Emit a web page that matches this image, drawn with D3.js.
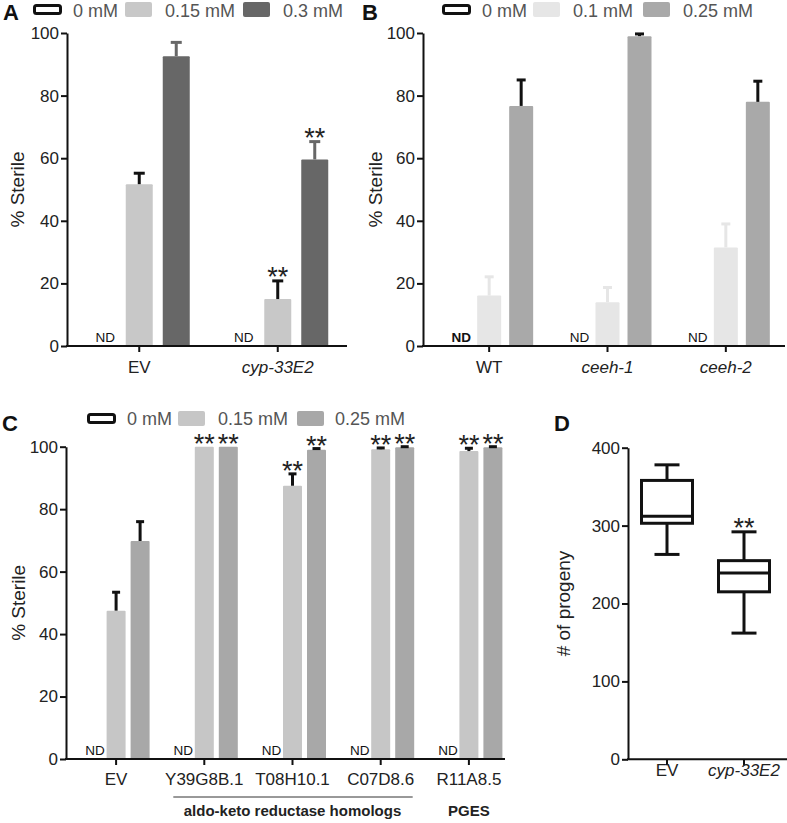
<!DOCTYPE html>
<html><head><meta charset="utf-8">
<script src="https://cdn.jsdelivr.net/npm/d3@7"></script>
<style>
body{margin:0;background:#fff}
svg{display:block}
text{font-family:"Liberation Sans",Arial,Helvetica,sans-serif}
</style>
</head><body>
<svg id="chart" width="787" height="823"></svg>
<script>
// ---------------- DATA ----------------
// Panel A
const catsA = ["EV", "cyp-33E2"];
const italicA = [false, true];
const dosesA = ["0 mM", "0.15 mM", "0.3 mM"];
const a015 = [51.7, 15.0];
const a015Err = [3.5, 5.8];
const a015Stars = ["", "**"];
const a03 = [92.6, 59.6];
const a03Err = [4.4, 5.7];
const a03Stars = ["", "**"];

// Panel B
const catsB = ["WT", "ceeh-1", "ceeh-2"];
const italicB = [false, true, true];
const dosesB = ["0 mM", "0.1 mM", "0.25 mM"];
const b01 = [16.1, 14.0, 31.5];
const b01Err = [6.0, 4.7, 7.5];
const b025 = [76.7, 99.0, 78.0];
const b025Err = [8.3, 0.7, 6.6];

// Panel C
const catsC = ["EV", "Y39G8B.1", "T08H10.1", "C07D8.6", "R11A8.5"];
const dosesC = ["0 mM", "0.15 mM", "0.25 mM"];
const c015 = [47.5, 100, 87.5, 99.2, 98.6];
const c015Err = [5.9, 0, 3.8, 0.4, 0.9];
const c015Stars = ["", "**", "**", "**", "**"];
const c025 = [69.8, 100, 99.0, 99.8, 99.8];
const c025Err = [6.2, 0, 0.4, 0.2, 0.2];
const c025Stars = ["", "**", "**", "**", "**"];
const groupsC = [
  {label: "aldo-keto reductase homologs", from: "Y39G8B.1", to: "C07D8.6", line: true},
  {label: "PGES", from: "R11A8.5", to: "R11A8.5", line: false}
];

// Panel D (box plot: min, q1, median, q3, max)
const catsD = ["EV", "cyp-33E2"];
const italicD = [false, true];
const boxMin = [263, 162];
const boxQ1 = [303, 215];
const boxMed = [312, 239];
const boxQ3 = [358, 255];
const boxMax = [378, 292];
const starsD = ["", "**"];

// y ticks
const ticksPct = [0, 20, 40, 60, 80, 100];
const ticksProg = [0, 100, 200, 300, 400];

// ---------------- DRAW ----------------
const svg = d3.select("#chart");
const FONT_TICK = 17;
const STAR_FS = 27;

function drawYAxis(y, x0, ticks, title, titleX) {
  const g = svg.append("g").attr("transform", `translate(${x0},0)`)
    .call(d3.axisLeft(y).tickValues(ticks).tickSize(6).tickSizeOuter(0).tickPadding(2));
  g.select(".domain").attr("stroke", "#111").attr("stroke-width", 2);
  g.selectAll(".tick line").attr("stroke", "#111").attr("stroke-width", 2);
  g.selectAll(".tick text").attr("font-size", FONT_TICK).attr("fill", "#222")
    .style("font-family", '"Liberation Sans",Arial,sans-serif');
  const [r0, r1] = y.range();
  svg.append("text")
    .attr("transform", `translate(${titleX},${(r0 + r1) / 2}) rotate(-90)`)
    .attr("text-anchor", "middle").attr("dominant-baseline", "central")
    .attr("font-size", 19).attr("fill", "#222").text(title);
}

function drawXAxis(x, yBase, axX0, axX1, cats, italics, labelDy) {
  svg.append("line").attr("x1", axX0 - 1).attr("x2", axX1).attr("y1", yBase).attr("y2", yBase)
    .attr("stroke", "#111").attr("stroke-width", 2);
  cats.forEach((c, i) => {
    const cx = x(c);
    svg.append("line").attr("x1", cx).attr("x2", cx).attr("y1", yBase).attr("y2", yBase + 6)
      .attr("stroke", "#111").attr("stroke-width", 2);
    svg.append("text").attr("x", cx).attr("y", yBase + labelDy)
      .attr("text-anchor", "middle").attr("font-size", FONT_TICK).attr("fill", "#222")
      .attr("font-style", italics && italics[i] ? "italic" : "normal").text(c);
  });
}

function drawLegend(items, yTop, baseline) {
  items.forEach(it => {
    if (it.outline) {
      svg.append("rect").attr("x", it.sx + 1.5).attr("y", yTop + 3.5).attr("width", 26).attr("height", 8)
        .attr("rx", 2).attr("fill", "#fff").attr("stroke", "#111").attr("stroke-width", 3);
    } else {
      svg.append("rect").attr("x", it.sx).attr("y", yTop).attr("width", 27).attr("height", 15)
        .attr("rx", 2).attr("fill", it.fill);
    }
    svg.append("text").attr("x", it.tx).attr("y", baseline).attr("font-size", 18)
      .attr("fill", "#555").text(it.label);
  });
}

function drawBars(x, y, cats, series, barW, capW, starGap) {
  series.forEach(s => {
    cats.forEach((c, i) => {
      const v = s.values[i];
      const cx = x(c) + s.offset;
      const y0 = y(0);
      svg.append("rect").attr("x", cx - barW / 2).attr("width", barW)
        .attr("y", y(v)).attr("height", y0 - y(v)).attr("fill", s.fill).attr("rx", 1);
      const e = s.errs[i];
      if (e > 0) {
        const yt = y(Math.min(100, v + e));
        svg.append("line").attr("x1", cx).attr("x2", cx).attr("y1", y(v)).attr("y2", yt)
          .attr("stroke", s.errColor).attr("stroke-width", 3);
        svg.append("line").attr("x1", cx - capW / 2).attr("x2", cx + capW / 2).attr("y1", yt).attr("y2", yt)
          .attr("stroke", s.errColor).attr("stroke-width", 3);
      }
      if (s.stars && s.stars[i]) {
        const yt = y(Math.min(100, v + e));
        svg.append("text").attr("x", cx).attr("y", yt - starGap + 0.556 * STAR_FS)
          .attr("text-anchor", "middle").attr("font-size", STAR_FS).attr("fill", "#222").text(s.stars[i]);
      }
    });
  });
}

function drawND(x, y, cats, offset, boldIdx) {
  cats.forEach((c, i) => {
    svg.append("text").attr("x", x(c) + offset).attr("y", y(0) - 4)
      .attr("text-anchor", "middle").attr("font-size", 13.5).attr("fill", "#111")
      .attr("font-weight", i === boldIdx ? "bold" : "normal").text("ND");
  });
}

function panelLabel(t, xx, yy) {
  svg.append("text").attr("x", xx).attr("y", yy).attr("font-size", 22)
    .attr("font-weight", "bold").attr("fill", "#111").text(t);
}

// ---- Panel A ----
{
  const y = d3.scaleLinear().domain([0, 100]).range([346, 33]);
  const x = d3.scalePoint().domain(catsA).range([70, 347]).padding(0.5);
  const off = 37;
  drawBars(x, y, catsA, [
    {values: a015, errs: a015Err, stars: a015Stars, fill: "#c8c8c8", errColor: "#111", offset: 0},
    {values: a03, errs: a03Err, stars: a03Stars, fill: "#676767", errColor: "#676767", offset: off}
  ], 27, 11, 10);
  drawND(x, y, catsA, -off + 3, -1);
  drawYAxis(y, 67, ticksPct, "% Sterile", 17);
  drawXAxis(x, 346, 67, 347, catsA, italicA, 27);
  drawLegend([
    {outline: true, sx: 33, tx: 73, label: dosesA[0]},
    {fill: "#c8c8c8", sx: 125, tx: 165, label: dosesA[1]},
    {fill: "#676767", sx: 243, tx: 283, label: dosesA[2]}
  ], 2, 17);
  panelLabel("A", 3, 20);
}

// ---- Panel B ----
{
  const y = d3.scaleLinear().domain([0, 100]).range([346, 33]);
  const x = d3.scalePoint().domain(catsB).range([430, 785]).padding(0.5);
  const off = 32;
  drawBars(x, y, catsB, [
    {values: b01, errs: b01Err, fill: "#e6e6e6", errColor: "#e6e6e6", offset: 0},
    {values: b025, errs: b025Err, fill: "#a9a9a9", errColor: "#111", offset: off}
  ], 24, 9, 10);
  drawND(x, y, catsB, -off + 4, 0);
  drawYAxis(y, 423, ticksPct, "% Sterile", 375);
  drawXAxis(x, 346, 423, 785, catsB, italicB, 27);
  drawLegend([
    {outline: true, sx: 442, tx: 482, label: dosesB[0]},
    {fill: "#e6e6e6", sx: 533, tx: 573, label: dosesB[1]},
    {fill: "#a9a9a9", sx: 643, tx: 683, label: dosesB[2]}
  ], 2, 17);
  panelLabel("B", 362, 20);
}

// ---- Panel C ----
{
  const y = d3.scaleLinear().domain([0, 100]).range([759, 446.7]);
  const x = d3.scalePoint().domain(catsC).range([72, 513]).padding(0.5);
  const off = 24;
  drawBars(x, y, catsC, [
    {values: c015, errs: c015Err, stars: c015Stars, fill: "#c6c6c6", errColor: "#111", offset: 0},
    {values: c025, errs: c025Err, stars: c025Stars, fill: "#a8a8a8", errColor: "#111", offset: off}
  ], 19, 8, 9);
  drawND(x, y, catsC, -off + 3, -1);
  drawYAxis(y, 66, ticksPct, "% Sterile", 18);
  drawXAxis(x, 759, 66, 505, catsC, null, 26);
  groupsC.forEach(gp => {
    const a = x(gp.from), b = x(gp.to);
    if (gp.line) {
      svg.append("line").attr("x1", a - 31).attr("x2", b + 32).attr("y1", 797).attr("y2", 797)
        .attr("stroke", "#333").attr("stroke-width", 1);
    }
    svg.append("text").attr("x", (a + b) / 2).attr("y", 816).attr("text-anchor", "middle")
      .attr("font-size", 15).attr("font-weight", "bold").attr("fill", "#222").text(gp.label);
  });
  drawLegend([
    {outline: true, sx: 87, tx: 127, label: dosesC[0]},
    {fill: "#c6c6c6", sx: 178, tx: 218, label: dosesC[1]},
    {fill: "#a8a8a8", sx: 297, tx: 335, label: dosesC[2]}
  ], 411, 424.5);
  panelLabel("C", 2, 431);
}

// ---- Panel D ----
{
  const y = d3.scaleLinear().domain([0, 400]).range([759.3, 447.7]);
  const x = d3.scalePoint().domain(catsD).range([628.5, 782.5]).padding(0.5);
  const boxW = 51, capW = 25;
  catsD.forEach((c, i) => {
    const cx = x(c);
    const g = svg.append("g").attr("stroke", "#111").attr("stroke-width", 3).attr("fill", "none");
    g.append("line").attr("x1", cx).attr("x2", cx).attr("y1", y(boxMax[i])).attr("y2", y(boxQ3[i]));
    g.append("line").attr("x1", cx).attr("x2", cx).attr("y1", y(boxQ1[i])).attr("y2", y(boxMin[i]));
    g.append("line").attr("x1", cx - capW / 2).attr("x2", cx + capW / 2).attr("y1", y(boxMax[i])).attr("y2", y(boxMax[i]));
    g.append("line").attr("x1", cx - capW / 2).attr("x2", cx + capW / 2).attr("y1", y(boxMin[i])).attr("y2", y(boxMin[i]));
    g.append("rect").attr("x", cx - boxW / 2).attr("width", boxW)
      .attr("y", y(boxQ3[i])).attr("height", y(boxQ1[i]) - y(boxQ3[i]));
    g.append("line").attr("x1", cx - boxW / 2).attr("x2", cx + boxW / 2).attr("y1", y(boxMed[i])).attr("y2", y(boxMed[i]));
    if (starsD[i]) {
      svg.append("text").attr("x", cx).attr("y", y(boxMax[i]) - 10 + 0.556 * STAR_FS)
        .attr("text-anchor", "middle").attr("font-size", STAR_FS).attr("fill", "#222").text(starsD[i]);
    }
  });
  drawYAxis(y, 628, ticksProg, "# of progeny", 563);
  drawXAxis(x, 759.3, 628, 787, catsD, italicD, 17);
  panelLabel("D", 554, 431);
}
</script>
</body></html>
